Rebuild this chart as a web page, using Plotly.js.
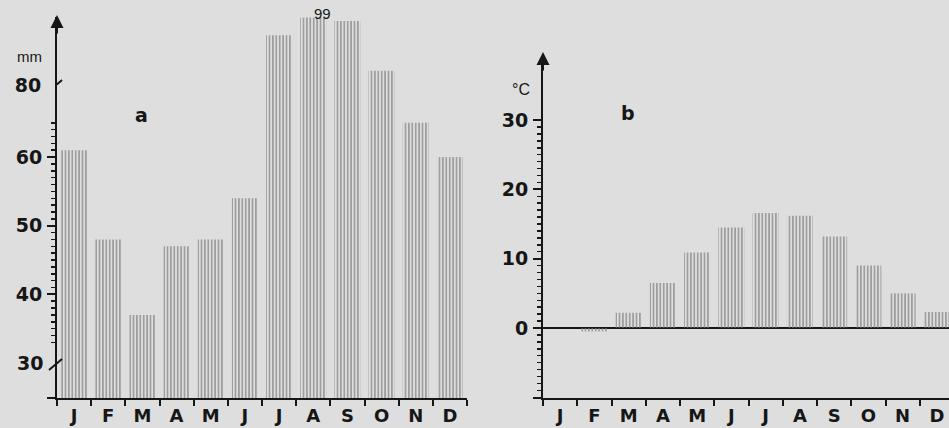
<!DOCTYPE html>
<html>
<head>
<meta charset="utf-8">
<script src="https://cdn.plot.ly/plotly-3.0.1.min.js"></script>
<style>html,body{margin:0;padding:0;background:#dedede;}#chart{width:949px;height:428px;}</style>
</head>
<body>
<div id="chart"></div>
<script>
// ---- data ----
const months = ['J','F','M','A','M','J','J','A','S','O','N','D'];
const monthPos = [0,1,2,3,4,5,6,7,8,9,10,11];
const precip = [61,48,37,47,48,54,94,99,98,84,65,60];      // mm (chart a)
const temp = [0,-0.5,2.2,6.5,10.9,14.5,16.6,16.2,13.2,9.0,5.0,2.3]; // °C (chart b)
const precipTicks = [40,50,60];
const precipMinor = [33,34,35,36,37,38,39,41,42,43,44,45,46,47,48,49,51,52,53,54,55,56,57,58,59,61,62,63,64,65];
const precipUpperTicks = [80];
const tempTicks = [0,10,20,30];
const tempMinor = [-9,-8,-7,-6,-5,-4,-3,-2,-1,1,2,3,4,5,6,7,8,9,11,12,13,14,15,16,17,18,19,21,22,23,24,25,26,27,28,29];

const W = 949, H = 428;
const px = v => v / W;
const py = v => 1 - v / H;

const INK = '#161616';
const HATCH = '#7c7c7c';
const bold = {family: 'DejaVu Sans', size: 19, color: INK, weight: 'bold'};
const monthFont = {family: 'DejaVu Sans', size: 18, color: INK, weight: 'bold'};
const reg = {family: 'Liberation Sans', size: 16, color: INK};

const barMarker = {color: HATCH, line: {width: 0}, pattern: {shape: '|', size: 3.4, solidity: 0.33}};

const traces = [
  {type: 'bar', x: monthPos, y: precip, xaxis: 'x', yaxis: 'y', marker: barMarker, hoverinfo: 'skip'},
  {type: 'bar', x: monthPos, y: precip, xaxis: 'x2', yaxis: 'y2', marker: barMarker, hoverinfo: 'skip'},
  {type: 'bar', x: monthPos, y: temp, xaxis: 'x4', yaxis: 'y4', marker: barMarker, hoverinfo: 'skip'}
];

const xBase = {
  tickmode: 'array', tickvals: monthPos, ticktext: months, ticks: '',
  tickfont: monthFont, ticklabelstandoff: 0,
  showline: true, linecolor: INK, linewidth: 2, showgrid: false, zeroline: false,
  minor: {tick0: 0.5, dtick: 1, ticks: 'outside', ticklen: 6, tickwidth: 2, tickcolor: INK, showgrid: false},
  fixedrange: true
};

const layout = {
  width: W, height: H,
  margin: {l: 0, r: 0, t: 0, b: 0},
  paper_bgcolor: '#dedede', plot_bgcolor: 'rgba(0,0,0,0)',
  showlegend: false, bargap: 0.24,
  xaxis: Object.assign({}, xBase, {domain: [px(57), px(467)], range: [-0.5, 11.5], anchor: 'y'}),
  yaxis: {
    domain: [py(398), py(85)], range: [24.9, 70.5], anchor: 'x',
    tickmode: 'array', tickvals: precipTicks, ticks: 'outside', ticklen: 8, tickwidth: 2, tickcolor: INK,
    tickfont: bold, ticklabelstandoff: 1, showline: true, linecolor: INK, linewidth: 2, showgrid: false, zeroline: false,
    minor: {tickmode: 'array', tickvals: precipMinor, ticks: 'outside', ticklen: 4, tickwidth: 1.5, tickcolor: INK, showgrid: false},
    fixedrange: true
  },
  xaxis2: {domain: [px(57), px(467)], range: [-0.5, 11.5], anchor: 'y2', matches: 'x', visible: false},
  yaxis2: {
    domain: [py(85), py(17)], range: [80, 99.15], anchor: 'x2',
    tickmode: 'array', tickvals: precipUpperTicks, ticks: '', tickfont: bold, ticklabelstandoff: 10,
    showline: true, linecolor: INK, linewidth: 2, showgrid: false, zeroline: false, fixedrange: true
  },
  xaxis4: Object.assign({}, xBase, {domain: [px(543), 1], range: [-0.5, 11.354], anchor: 'y4'}),
  yaxis4: {
    domain: [py(398), py(60)], range: [-10.1, 38.66], anchor: 'x4',
    tickmode: 'array', tickvals: tempTicks, ticks: 'outside', ticklen: 8, tickwidth: 2, tickcolor: INK,
    tickfont: bold, ticklabelstandoff: 1, showline: true, linecolor: INK, linewidth: 2, showgrid: false,
    zeroline: true, zerolinecolor: INK, zerolinewidth: 2,
    minor: {tickmode: 'array', tickvals: tempMinor, ticks: 'outside', ticklen: 4, tickwidth: 1.5, tickcolor: INK, showgrid: false},
    fixedrange: true
  },
  shapes: [
    // axis break marks (chart a)
    {type: 'line', xref: 'paper', xsizemode: 'pixel', xanchor: px(57), x0: -10, x1: 5,
     yref: 'y2', ysizemode: 'pixel', yanchor: 80, y0: -8, y1: 5, line: {color: INK, width: 2}},
    {type: 'line', xref: 'paper', xsizemode: 'pixel', xanchor: px(57), x0: -8, x1: 5,
     yref: 'y', ysizemode: 'pixel', yanchor: 30, y0: -7, y1: 4, line: {color: INK, width: 2}},
    // baseline stubs left of the y axes
    {type: 'line', xref: 'paper', yref: 'paper', x0: px(47), x1: px(57), y0: py(398), y1: py(398), line: {color: INK, width: 2}},
    {type: 'line', xref: 'paper', yref: 'paper', x0: px(533), x1: px(543), y0: py(398), y1: py(398), line: {color: INK, width: 2}}
  ],
  annotations: [
    // arrow heads on the y axes
    {xref: 'paper', yref: 'paper', x: px(57), y: py(15), ax: 0, ay: 20, text: '', showarrow: true,
     arrowhead: 2, arrowsize: 1.3, arrowwidth: 2, arrowcolor: INK},
    {xref: 'paper', yref: 'paper', x: px(543), y: py(52), ax: 0, ay: 20, text: '', showarrow: true,
     arrowhead: 2, arrowsize: 1.3, arrowwidth: 2, arrowcolor: INK},
    {xref: 'paper', yref: 'y', x: px(45), y: 30, text: '30', showarrow: false, xanchor: 'right', yanchor: 'middle', font: bold},
    {xref: 'paper', yref: 'paper', x: px(29), y: py(57), text: 'mm', showarrow: false, xanchor: 'center', yanchor: 'middle',
     font: {family: 'Liberation Sans', size: 15, color: INK}},
    {xref: 'paper', yref: 'paper', x: px(141), y: py(115), text: 'a', showarrow: false, xanchor: 'center', yanchor: 'middle', font: bold},
    {xref: 'paper', yref: 'paper', x: px(322), y: py(13), text: '99', showarrow: false, xanchor: 'center', yanchor: 'middle',
     font: {family: 'Liberation Sans', size: 15, color: INK}},
    {xref: 'paper', yref: 'paper', x: px(521), y: py(90), text: '°C', showarrow: false, xanchor: 'center', yanchor: 'middle', font: reg},
    {xref: 'paper', yref: 'paper', x: px(628), y: py(113), text: 'b', showarrow: false, xanchor: 'center', yanchor: 'middle', font: bold}
  ]
};

Plotly.newPlot('chart', traces, layout, {staticPlot: true, displayModeBar: false});
</script>
</body>
</html>
